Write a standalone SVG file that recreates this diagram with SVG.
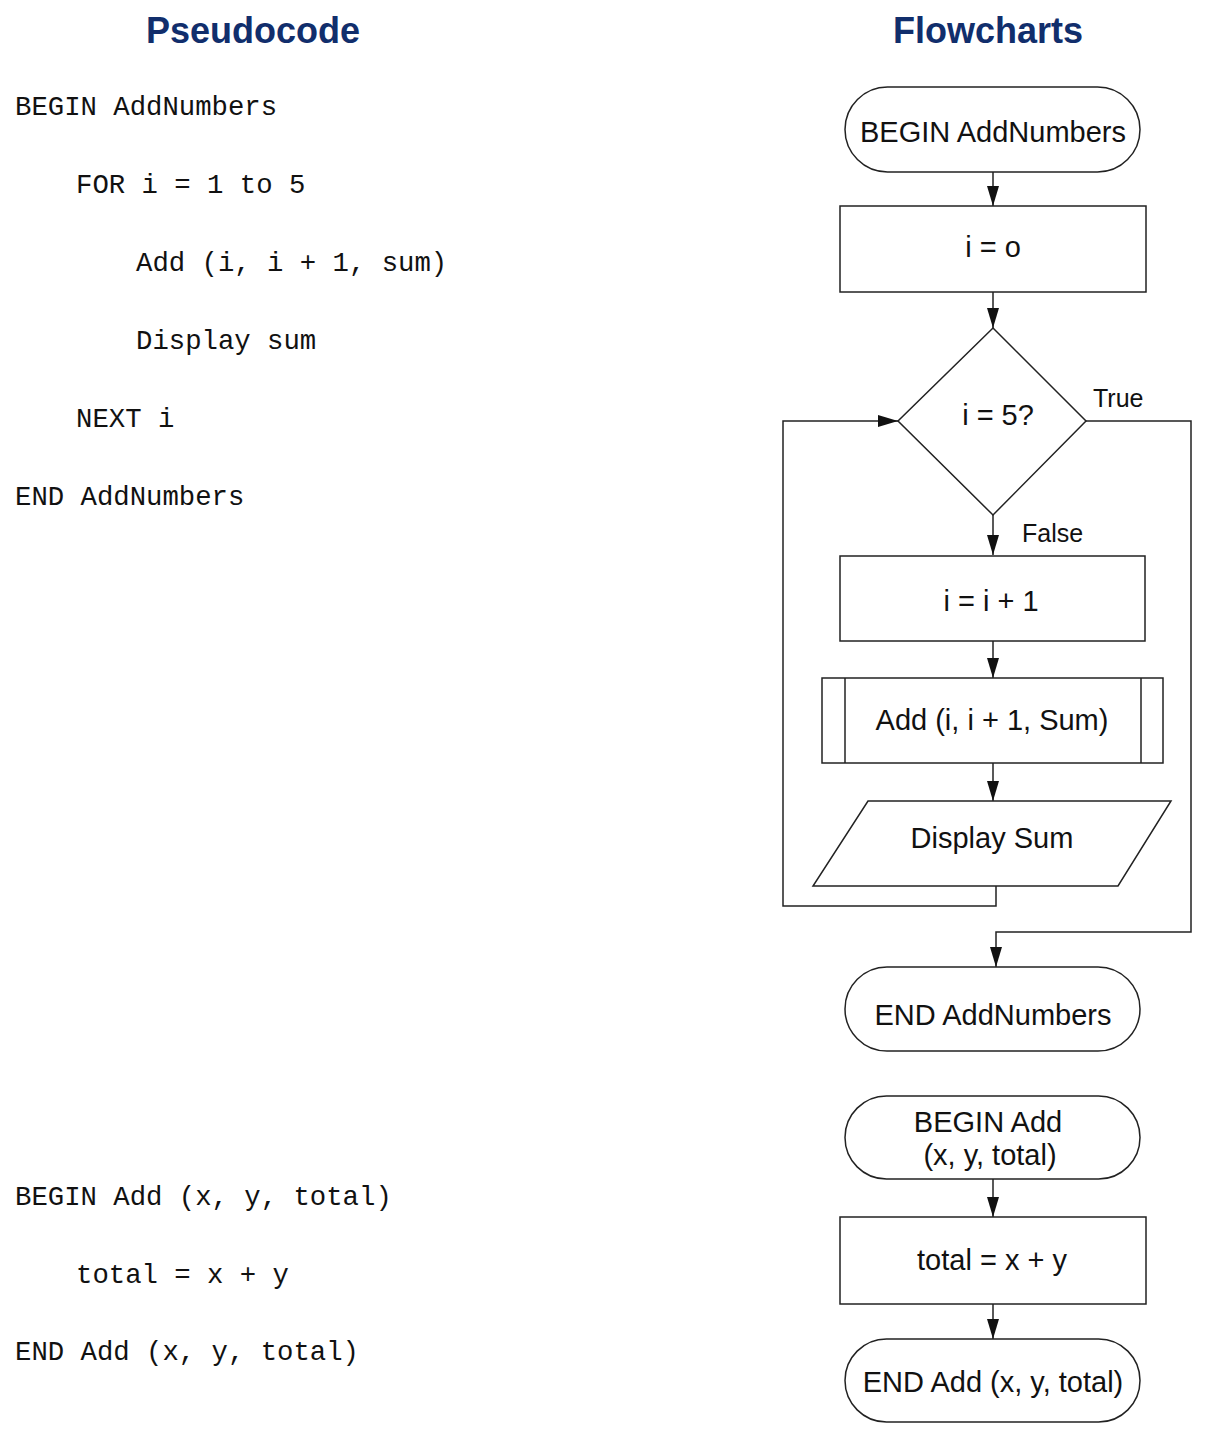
<svg xmlns="http://www.w3.org/2000/svg" width="1214" height="1440" viewBox="0 0 1214 1440">
<style>
.title{font-family:"Liberation Sans",Arial,sans-serif;font-weight:bold;font-size:36px;fill:#112E6C;text-anchor:middle}
.code{font-family:"Liberation Mono","DejaVu Sans Mono",monospace;font-size:27.3px;fill:#111}
.shape{fill:#fff;stroke:#222;stroke-width:1.5}
.lbl{font-family:"Liberation Sans",Arial,sans-serif;font-size:29px;fill:#111;text-anchor:middle}
.small{font-family:"Liberation Sans",Arial,sans-serif;font-size:25px;fill:#111}
.conn{fill:none;stroke:#222;stroke-width:1.5}
</style>
<defs>
<marker id="arr" markerUnits="userSpaceOnUse" markerWidth="20" markerHeight="12" refX="20" refY="6" orient="auto">
<path d="M0,0 L20,6 L0,12 Z" fill="#111"/>
</marker>
</defs>
<rect width="1214" height="1440" fill="#fff"/>

<text class="title" x="253" y="43">Pseudocode</text>
<text class="title" x="988" y="43">Flowcharts</text>

<g id="pseudocode">
<text class="code" x="15" y="115">BEGIN AddNumbers</text>
<text class="code" x="76" y="193">FOR i = 1 to 5</text>
<text class="code" x="136" y="271">Add (i, i + 1, sum)</text>
<text class="code" x="136" y="349">Display sum</text>
<text class="code" x="76" y="427">NEXT i</text>
<text class="code" x="15" y="505">END AddNumbers</text>
<text class="code" x="15" y="1205">BEGIN Add (x, y, total)</text>
<text class="code" x="76" y="1283">total = x + y</text>
<text class="code" x="15" y="1360">END Add (x, y, total)</text>
</g>

<g id="connectors">
<line class="conn" x1="993" y1="172" x2="993" y2="206" marker-end="url(#arr)"/>
<line class="conn" x1="993" y1="292" x2="993" y2="328" marker-end="url(#arr)"/>
<line class="conn" x1="993" y1="515" x2="993" y2="555" marker-end="url(#arr)"/>
<line class="conn" x1="993" y1="641" x2="993" y2="678" marker-end="url(#arr)"/>
<line class="conn" x1="993" y1="763" x2="993" y2="801" marker-end="url(#arr)"/>
<polyline class="conn" points="996,886 996,906 783,906 783,421 898,421" marker-end="url(#arr)"/>
<polyline class="conn" points="1086,421 1191,421 1191,932 996,932 996,967" marker-end="url(#arr)"/>
<line class="conn" x1="993" y1="1179" x2="993" y2="1217" marker-end="url(#arr)"/>
<line class="conn" x1="993" y1="1304" x2="993" y2="1339" marker-end="url(#arr)"/>
<text class="small" x="1093" y="407">True</text>
<text class="small" x="1022" y="542">False</text>
</g>

<g id="begin-addnumbers">
<rect class="shape" x="845" y="87" width="295" height="85" rx="42.5"/>
<text class="lbl" x="993" y="142">BEGIN AddNumbers</text>
</g>
<g id="init-i">
<rect class="shape" x="840" y="206" width="306" height="86"/>
<text class="lbl" x="993" y="257">i = o</text>
</g>
<g id="decision">
<polygon class="shape" points="993,328 1086,421 993,515 898,421"/>
<text class="lbl" x="998" y="425">i = 5?</text>
</g>
<g id="increment">
<rect class="shape" x="840" y="556" width="305" height="85"/>
<text class="lbl" x="991" y="611">i = i + 1</text>
</g>
<g id="call-add">
<rect class="shape" x="822" y="678" width="341" height="85"/>
<line class="conn" x1="845" y1="678" x2="845" y2="763"/>
<line class="conn" x1="1141" y1="678" x2="1141" y2="763"/>
<text class="lbl" x="992" y="730">Add (i, i + 1, Sum)</text>
</g>
<g id="display-sum">
<polygon class="shape" points="868,801 1171,801 1118,886 813,886"/>
<text class="lbl" x="992" y="848">Display Sum</text>
</g>
<g id="end-addnumbers">
<rect class="shape" x="845" y="967" width="295" height="84" rx="42"/>
<text class="lbl" x="993" y="1025">END AddNumbers</text>
</g>
<g id="begin-add">
<rect class="shape" x="845" y="1096" width="295" height="83" rx="41.5"/>
<text class="lbl" x="988" y="1132">BEGIN Add</text>
<text class="lbl" x="990" y="1165">(x, y, total)</text>
</g>
<g id="total">
<rect class="shape" x="840" y="1217" width="306" height="87"/>
<text class="lbl" x="992" y="1270">total = x + y</text>
</g>
<g id="end-add">
<rect class="shape" x="845" y="1339" width="295" height="83" rx="41.5"/>
<text class="lbl" x="993" y="1392">END Add (x, y, total)</text>
</g>
</svg>
